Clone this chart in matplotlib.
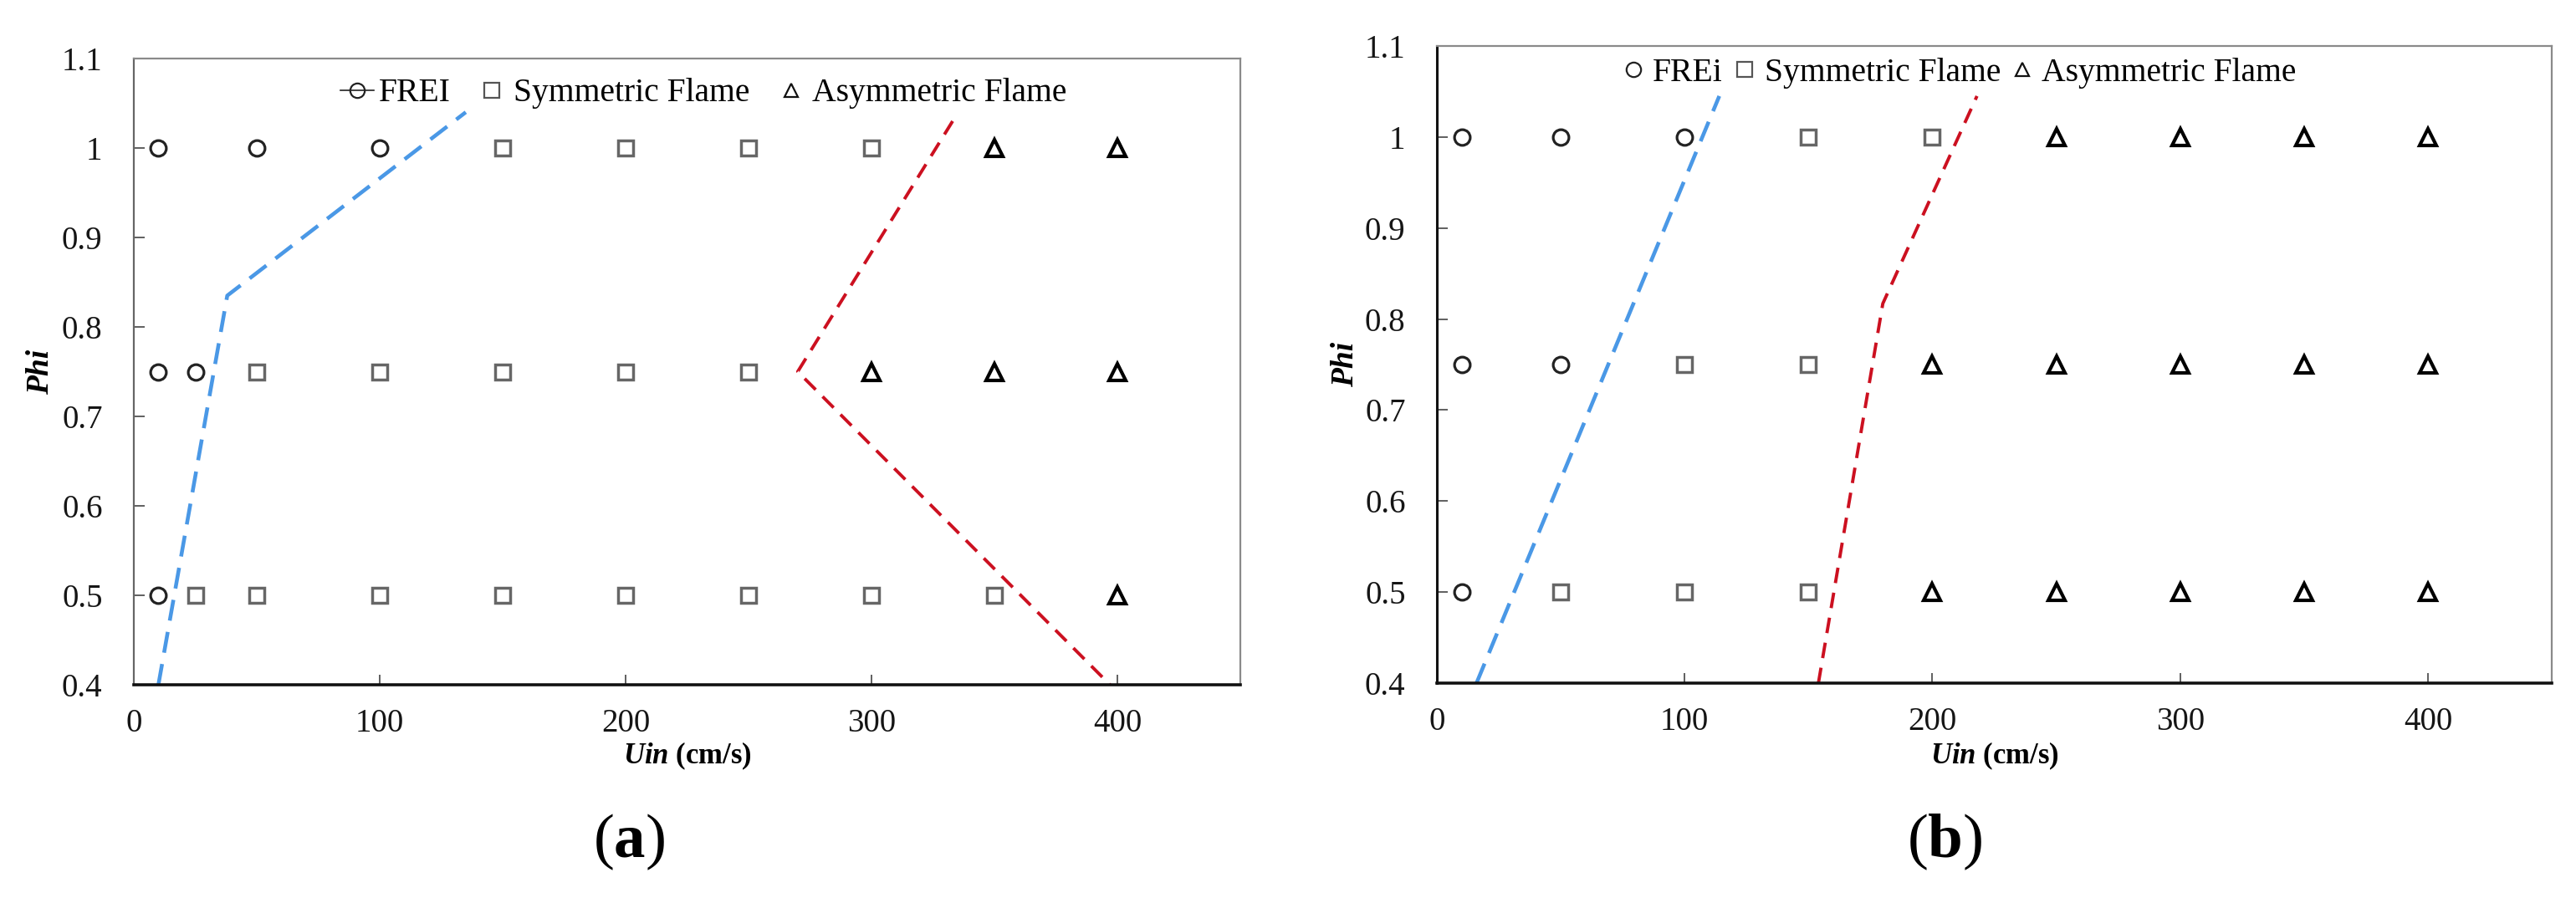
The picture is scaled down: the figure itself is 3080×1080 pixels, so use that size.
import matplotlib
matplotlib.use("Agg")
import matplotlib.pyplot as plt
from matplotlib.lines import Line2D

plt.rcParams['font.family'] = ['Liberation Serif', 'DejaVu Serif']
plt.rcParams['mathtext.fontset'] = 'custom'
plt.rcParams['mathtext.rm'] = 'Liberation Serif'
plt.rcParams['mathtext.bf'] = 'Liberation Serif:bold'
plt.rcParams['mathtext.it'] = 'Liberation Serif:italic'
plt.rcParams['mathtext.bfit'] = 'Liberation Serif:bold:italic'

# ---------------- data ----------------
x_ticks = [0, 100, 200, 300, 400]
y_ticks = [0.4, 0.5, 0.6, 0.7, 0.8, 0.9, 1.0, 1.1]
y_tick_labels = ['0.4', '0.5', '0.6', '0.7', '0.8', '0.9', '1', '1.1']

# panel (a)
a_frei_x = [10, 50, 100, 10, 25, 10]
a_frei_y = [1.0, 1.0, 1.0, 0.75, 0.75, 0.5]
a_sym_x = [150, 200, 250, 300, 50, 100, 150, 200, 250, 25, 50, 100, 150, 200, 250, 300, 350]
a_sym_y = [1.0, 1.0, 1.0, 1.0, 0.75, 0.75, 0.75, 0.75, 0.75, 0.5, 0.5, 0.5, 0.5, 0.5, 0.5, 0.5, 0.5]
a_asym_x = [350, 400, 300, 350, 400, 400]
a_asym_y = [1.0, 1.0, 0.75, 0.75, 0.75, 0.5]
a_blue_x = [10, 38, 135]
a_blue_y = [0.4, 0.835, 1.04]
a_red_x = [333, 270, 397]
a_red_y = [1.03, 0.75, 0.4]

# panel (b)
b_frei_x = [10, 50, 100, 10, 50, 10]
b_frei_y = [1.0, 1.0, 1.0, 0.75, 0.75, 0.5]
b_sym_x = [150, 200, 100, 150, 50, 100, 150]
b_sym_y = [1.0, 1.0, 0.75, 0.75, 0.5, 0.5, 0.5]
b_asym_x = [250, 300, 350, 400, 200, 250, 300, 350, 400, 200, 250, 300, 350, 400]
b_asym_y = [1.0, 1.0, 1.0, 1.0, 0.75, 0.75, 0.75, 0.75, 0.75, 0.5, 0.5, 0.5, 0.5, 0.5]
b_blue_x = [16, 114]
b_blue_y = [0.4, 1.045]
b_red_x = [154, 180, 218]
b_red_y = [0.4, 0.817, 1.045]

legend_a = ['FREI', 'Symmetric Flame', 'Asymmetric Flame']
legend_b = ['FREi', 'Symmetric Flame', 'Asymmetric Flame']

BLUE = '#4a98e6'
RED = '#cc1020'
TICK_FS = 28
LEG_FS = 28.5

fig = plt.figure(figsize=(30.8, 10.8), dpi=100)
ax_a = fig.add_axes([160 / 3080, 1 - 819 / 1080, (1483 - 160) / 3080, (819 - 70) / 1080])
ax_b = fig.add_axes([1718 / 3080, 1 - 817 / 1080, (3051 - 1718) / 3080, (817 - 55) / 1080])


def style_axes(ax, left_color, left_lw):
    ax.set_xlim(0, 450)
    ax.set_ylim(0.4, 1.1)
    ax.set_xticks(x_ticks)
    ax.set_xticklabels([str(v) for v in x_ticks])
    ax.set_yticks(y_ticks)
    ax.set_yticklabels(y_tick_labels)
    ax.tick_params(direction='in', length=9, width=1.2, color='#444',
                   labelsize=TICK_FS, labelcolor='#151515')
    ax.tick_params(axis='y', pad=27)
    ax.tick_params(axis='x', pad=20)
    ax.spines['top'].set_color('#8a8a8a')
    ax.spines['top'].set_linewidth(1.6)
    ax.spines['right'].set_color('#8a8a8a')
    ax.spines['right'].set_linewidth(1.6)
    ax.spines['left'].set_color(left_color)
    ax.spines['left'].set_linewidth(left_lw)
    ax.spines['bottom'].set_color('#111111')
    ax.spines['bottom'].set_linewidth(2.6)
    ax.set_xlabel(r'$\mathbfit{Uin}$ (cm/s)', fontsize=25, fontweight='bold')
    ax.xaxis.label.set_va('center')
    ax.set_ylabel('Phi', fontsize=27, fontweight='bold', fontstyle='italic')
    ax.yaxis.label.set_va('center')


def draw_points(ax, fx, fy, sx, sy, tx, ty):
    ax.plot(fx, fy, linestyle='none', marker='o', ms=13.5, mfc='none', mec='#222222', mew=2.3, zorder=3)
    ax.plot(sx, sy, linestyle='none', marker='s', ms=13.5, mfc='none', mec='#666666', mew=2.5, zorder=3)
    ax.plot(tx, ty, linestyle='none', marker='^', ms=14, mfc='none', mec='#000000', mew=3.0, zorder=3)


# ---------------- panel (a) ----------------
style_axes(ax_a, '#666666', 1.6)
draw_points(ax_a, a_frei_x, a_frei_y, a_sym_x, a_sym_y, a_asym_x, a_asym_y)
ax_a.plot(a_blue_x, a_blue_y, color=BLUE, lw=3.3, dashes=(5.5, 3.0), zorder=2)
ax_a.plot(a_red_x, a_red_y, color=RED, lw=2.8, dashes=(4.8, 3.0), zorder=2)
ax_a.xaxis.set_label_coords(0.5, -0.114)
ax_a.yaxis.set_label_coords(-0.084, 0.5)

handles_a = [
    Line2D([], [], color='#222222', lw=1.2, marker='o', ms=12.5, mfc='none', mec='#222222', mew=1.6),
    Line2D([], [], linestyle='none', marker='s', ms=12.5, mfc='none', mec='#555555', mew=1.6),
    Line2D([], [], linestyle='none', marker='^', ms=11.5, mfc='none', mec='#111111', mew=1.6),
]
ax_a.legend(handles_a, legend_a, loc='center', bbox_to_anchor=(0.515, 0.944), ncol=3,
            frameon=False, fontsize=LEG_FS, handlelength=1.0, handletextpad=0.15,
            columnspacing=0.75, borderpad=0, borderaxespad=0)

# ---------------- panel (b) ----------------
style_axes(ax_b, '#111111', 2.2)
draw_points(ax_b, b_frei_x, b_frei_y, b_sym_x, b_sym_y, b_asym_x, b_asym_y)
ax_b.plot(b_blue_x, b_blue_y, color=BLUE, lw=3.3, dashes=(5.5, 3.0), zorder=2)
ax_b.plot(b_red_x, b_red_y, color=RED, lw=2.8, dashes=(4.8, 3.0), zorder=2)
ax_b.xaxis.set_label_coords(0.5, -0.115)
ax_b.yaxis.set_label_coords(-0.0825, 0.5)

handles_b = [
    Line2D([], [], linestyle='none', marker='o', ms=12.5, mfc='none', mec='#222222', mew=1.6),
    Line2D([], [], linestyle='none', marker='s', ms=12.5, mfc='none', mec='#555555', mew=1.6),
    Line2D([], [], linestyle='none', marker='^', ms=11.5, mfc='none', mec='#111111', mew=1.6),
]
ax_b.legend(handles_b, legend_b, loc='center', bbox_to_anchor=(0.468, 0.957), ncol=3,
            frameon=False, fontsize=LEG_FS, handlelength=0.75, handletextpad=0.22,
            columnspacing=0.28, borderpad=0, borderaxespad=0)

# ---------------- panel labels ----------------
fig.text(752 / 3080, 1 - 1007 / 1080, r'($\mathbf{a}$)', fontsize=54, ha='center', va='center')
fig.text(2325 / 3080, 1 - 1007 / 1080, r'($\mathbf{b}$)', fontsize=54, ha='center', va='center')

fig.savefig('out.png', dpi=100, facecolor='white')
